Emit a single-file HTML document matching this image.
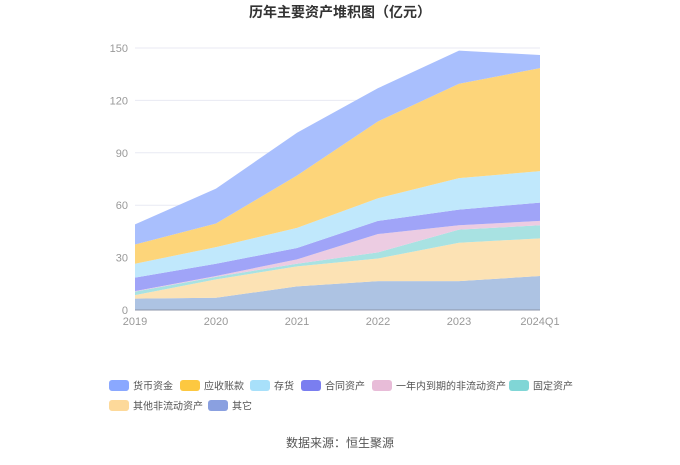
<!DOCTYPE html>
<html><head><meta charset="utf-8"><style>
body{margin:0;background:#fff;font-family:"Liberation Sans","Noto Sans CJK SC",sans-serif;}
svg text{font-family:"Liberation Sans","Noto Sans CJK SC",sans-serif;}
</style></head><body>
<svg id="c" width="680" height="460">
<text x="340" y="17" text-anchor="middle" font-size="14" font-weight="bold" fill="#333">历年主要资产堆积图（亿元）</text>
<g id="grid"></g><g id="areas"></g><g id="axes"></g><g id="legend"></g>
<text x="340" y="447" text-anchor="middle" font-size="12" fill="#555">数据来源：恒生聚源</text>
</svg>
<script>
const categories=["2019","2020","2021","2022","2023","2024Q1"];
const yTicks=[0,30,60,90,120,150];
const seriesNames=["其它","其他非流动资产","固定资产","一年内到期的非流动资产","合同资产","存货","应收账款","货币资金"];
const other=[6.5,7,13.5,16.5,16.5,19.5];
const otherNonCurrent=[2,10.5,11.5,13,22,21.5];
const fixedAssets=[2,1.5,1.5,3.5,7.5,7.5];
const dueWithinYear=[0.3,0.5,2.5,10.5,2.5,2.5];
const contractAssets=[7.7,7,6.5,7.5,9,10.5];
const inventory=[8,9.5,11.5,13,18,18];
const receivables=[11,13.5,30,44,54,59];
const cash=[11.5,20,24.5,19,19,7.5];
const series=[other,otherNonCurrent,fixedAssets,dueWithinYear,contractAssets,inventory,receivables,cash];
const fills=["#adc3e3","#fce2b4","#a8e2e2","#eccce2","#a0a4f8","#c0e8fc","#fdd57a","#a9bffd"];
const legendColors=["#8aa0e0","#fdd99a","#80d6d6","#e8bcd8","#7a7ef0","#a8e0fa","#fdc840","#8aa8ff"];
const slugs=["other","other-noncurrent","fixed-assets","due-within-year","contract-assets","inventory","receivables","cash"];
const X0=135,X1=540,Y0=310,Y1=48,YMAX=150;
const xs=i=>X0+(X1-X0)*i/(categories.length-1);
const ys=v=>Y0-(Y0-Y1)*v/YMAX;
const NS="http://www.w3.org/2000/svg";
function mk(t,a,p){const e=document.createElementNS(NS,t);for(const k in a)e.setAttribute(k,a[k]);p.appendChild(e);return e;}
const grid=document.getElementById('grid'),axes=document.getElementById('axes'),areas=document.getElementById('areas'),legend=document.getElementById('legend');
yTicks.forEach(v=>{
 const l=mk('line',{x1:X0,x2:X1,y1:ys(v),y2:ys(v),stroke:v?"#e8eaf3":"#8c95a8","stroke-width":1},v?grid:axes);
 
 
 const t=mk('text',{x:X0-7,y:ys(v)+4,"text-anchor":"end","font-size":11,fill:"#999"},axes);
 t.textContent=v;
 
 
});
categories.forEach((c,i)=>{
 const t=mk('text',{x:xs(i),y:Y0+15,"text-anchor":"middle","font-size":11,fill:"#999"},axes);
 t.textContent=c;
 
 
});
let base=categories.map(()=>0);
series.forEach((s,k)=>{
 const top=base.map((b,i)=>b+s[i]);
 let d=top.map((v,i)=>(i?'L':'M')+xs(i)+','+ys(v)).join('');
 for(let i=categories.length-1;i>=0;i--)d+='L'+xs(i)+','+ys(base[i]);
 const p=mk('path',{d:d+'Z',fill:fills[k]},areas);
 
 
 base=top;
});
const legendOrder=[7,6,5,4,3,2,1,0];
const lpos=[[109,380],[180,380],[250,380],[301,380],[372,380],[509,380],[109,400],[208,400]];
legendOrder.forEach((k,j)=>{
 const g=mk('g',{},legend);
 
 
 const [x,y]=lpos[j];
 mk('rect',{x:x,y:y,width:20,height:11,rx:3,fill:legendColors[k]},g);
 const t=mk('text',{x:x+24,y:y+9.5,"font-size":10,fill:"#555"},g);
 t.textContent=seriesNames[k];
});
</script>
</body></html>
